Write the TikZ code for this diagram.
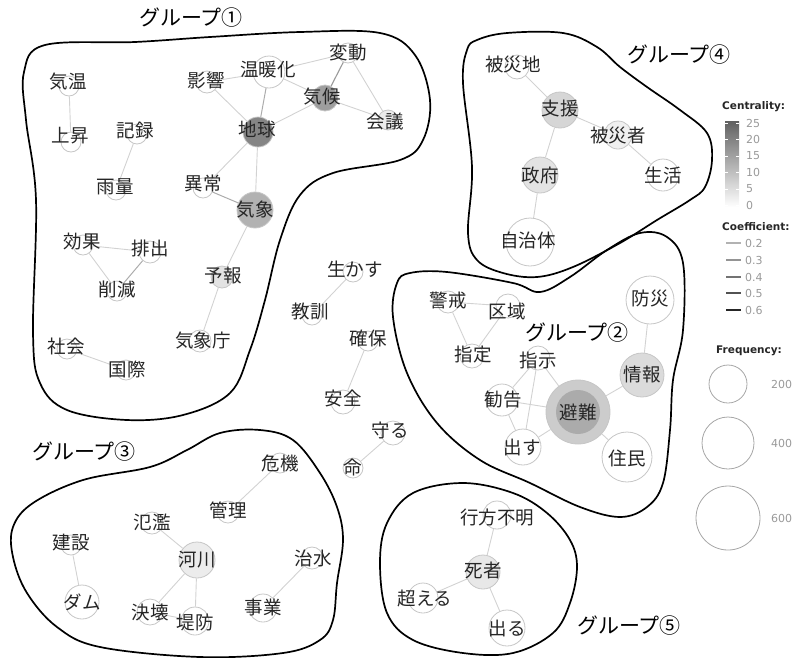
\documentclass[tikz,border=0pt]{standalone}
\usepackage{fontspec}
\newfontfamily\jp{Noto Sans CJK JP}
\newfontfamily\leg{DejaVu Sans}
\begin{document}
\begin{tikzpicture}[x=1pt,y=-1pt,
 circ/.style={circle, draw=gray!45, line width=0.8pt, inner sep=0pt, fill=white},
 word/.style={font=\jp\fontsize{18.5}{18.5}\selectfont, text=black!85, inner sep=0pt},
 grp/.style={font=\jp\fontsize{21}{21}\selectfont, inner sep=0pt},
 edge/.style={draw=gray!35, line width=0.9pt},
 dedge/.style={draw=gray!65, line width=1pt},
 hull/.style={draw=black, line width=1.7pt},
 legt/.style={font=\leg\bfseries\fontsize{10.5}{10.5}\selectfont, text=black!85, anchor=west, inner sep=0pt},
 legn/.style={font=\leg\fontsize{11}{11}\selectfont, text=gray!80, anchor=west, inner sep=0pt},
]
\useasboundingbox (0,0) rectangle (794,657);
\newcommand\cn[5]{\node[circ,minimum size=#4*2pt,fill=#5] (#1) at (#2,#3) {};}
\newcommand\tn[4]{\node[word] (t#1) at (#2,#3) {#4};}

% ---------- group outlines ----------
\draw[hull] plot[smooth cycle, tension=0.6] coordinates {(45,45) (135,42) (210,37) (300,32) (380,33) (415,55) (430,100) (423,140) (400,160) (333,173) (300,195) (280,240) (265,300) (250,350) (230,393) (183,415) (127,420) (67,410) (40,383) (33,333) (36,200) (26,120) (24,72)};
\draw[hull] plot[smooth cycle, tension=0.6] coordinates {(477,40) (507,33) (563,33) (597,47) (620,67) (647,87) (680,110) (707,133) (712,160) (705,187) (690,200) (657,220) (620,243) (573,267) (537,277) (503,273) (477,260) (468,233) (472,167) (463,83) (467,50)};
\draw[hull] plot[smooth cycle, tension=0.6] coordinates {(410,273) (447,272) (513,283) (540,292) (570,277) (607,250) (640,233) (667,237) (683,263) (683,330) (673,380) (670,430) (663,483) (647,507) (620,517) (580,507) (530,483) (480,460) (437,423) (407,373) (393,317) (397,283)};
\draw[hull] plot[smooth cycle, tension=0.6] coordinates {(13,527) (33,503) (83,480) (150,467) (187,450) (220,433) (260,430) (293,440) (320,473) (337,507) (343,540) (337,583) (333,620) (320,640) (283,653) (200,657) (100,647) (57,627) (27,593) (13,557)};
\draw[hull] plot[smooth cycle, tension=0.6] coordinates {(413,493) (463,483) (513,493) (547,513) (570,540) (577,567) (570,603) (553,633) (513,653) (463,653) (413,640) (387,613) (380,563) (387,523)};

% ---------- circles ----------
\cn{kion}{69}{86}{10}{white}
\cn{josho}{71}{142}{10}{white}
\cn{kiroku}{137}{134}{10}{white}
\cn{uryo}{116}{190}{10}{white}
\cn{eikyo}{207}{82}{11}{white}
\cn{ondan}{269}{72}{16}{white}
\cn{hendo}{348}{53}{10}{white}
\cn{kiko}{325}{98}{13}{black!38}
\cn{kaigi}{388}{120}{10}{gray!15}
\cn{chikyu}{258}{132}{15}{black!48}
\cn{ijo}{203}{188}{10}{white}
\cn{kisho}{255}{210}{18}{black!30}
\cn{koka}{83}{245}{10}{white}
\cn{haishutsu}{150}{252}{11}{white}
\cn{sakugen}{117}{291}{10}{white}
\cn{yoho}{222}{277}{11}{gray!22}
\cn{kishocho}{200}{341}{11}{white}
\cn{shakai}{67}{349}{10}{white}
\cn{kokusai}{126}{370}{10}{white}
\cn{ikasu}{353}{272}{10}{white}
\cn{kyokun}{312}{315}{10}{white}
\cn{kakuho}{368}{341}{10}{white}
\cn{anzen}{343}{402}{12}{white}
\cn{mamoru}{393}{433}{12}{white}
\cn{inochi}{353}{468}{10}{white}
\cn{hisaichi}{517}{67}{12}{white}
\cn{shien}{560}{110}{18}{gray!32}
\cn{hisaisha}{618}{135}{14}{gray!12}
\cn{seikatsu}{663}{175}{16}{white}
\cn{seifu}{540}{175}{18}{gray!22}
\cn{jichitai}{530}{242}{24}{white}
\cn{keikai}{448}{302}{11}{white}
\cn{kuiki}{508}{306}{12}{white}
\cn{shitei}{472}{356}{12}{white}
\cn{shiji}{538}{358}{12}{white}
\cn{bosai}{650}{300}{24}{white}
\cn{joho}{642}{375}{22}{gray!28}
\cn{kankoku}{502}{400}{16}{white}
\cn{hinan}{578}{412}{32}{gray!40}
\node[circle, fill=black!33, inner sep=0pt, minimum size=44pt] (hinanin) at (578,412) {};
\cn{dasu}{523}{447}{18}{white}
\cn{jumin}{627}{457}{25}{white}
\cn{yukue}{497}{515}{14}{white}
\cn{shisha}{483}{572}{17}{gray!18}
\cn{koeru}{423}{598}{15}{white}
\cn{deru}{507}{628}{18}{white}
\cn{kiki}{280}{463}{10}{white}
\cn{kanri}{228}{512}{11}{white}
\cn{hanran}{152}{523}{11}{white}
\cn{kensetsu}{71}{545}{10}{white}
\cn{kasen}{197}{560}{18}{gray!15}
\cn{chisui}{312}{558}{11}{white}
\cn{damu}{82}{602}{17}{white}
\cn{kekkai}{150}{612}{13}{white}
\cn{teibo}{195}{621}{14}{white}
\cn{jigyo}{263}{608}{14}{white}

% ---------- edges ----------
\draw[edge] (kion) -- (josho);
\draw[edge] (kiroku) -- (uryo);
\draw[edge] (eikyo) -- (ondan);
\draw[edge] (eikyo) -- (chikyu);
\draw[dedge] (ondan) -- (chikyu);
\draw[edge] (ondan) -- (kiko);
\draw[edge] (ondan) -- (hendo);
\draw[draw=gray!80, line width=1.1pt] (hendo) -- (kiko);
\draw[edge] (hendo) -- (kaigi);
\draw[edge] (kiko) -- (kaigi);
\draw[edge] (chikyu) -- (kiko);
\draw[edge] (chikyu) -- (ijo);
\draw[edge] (chikyu) -- (kisho);
\draw[dedge] (ijo) -- (kisho);
\draw[edge] (kisho) -- (yoho);
\draw[edge] (yoho) -- (kishocho);
\draw[edge] (koka) -- (haishutsu);
\draw[edge] (koka) -- (sakugen);
\draw[dedge] (haishutsu) -- (sakugen);
\draw[edge] (shakai) -- (kokusai);
\draw[edge] (ikasu) -- (kyokun);
\draw[edge] (kakuho) -- (anzen);
\draw[edge] (mamoru) -- (inochi);
\draw[edge] (hisaichi) -- (shien);
\draw[edge] (shien) -- (hisaisha);
\draw[edge] (hisaisha) -- (seikatsu);
\draw[edge] (shien) -- (seifu);
\draw[edge] (seifu) -- (jichitai);
\draw[edge] (keikai) -- (kuiki);
\draw[edge] (keikai) -- (shitei);
\draw[edge] (kuiki) -- (shitei);
\draw[edge] (shiji) -- (kankoku);
\draw[edge] (shiji) -- (dasu);
\draw[edge] (shiji) -- (hinan);
\draw[edge] (kankoku) -- (hinan);
\draw[edge] (kankoku) -- (dasu);
\draw[edge] (dasu) -- (hinan);
\draw[edge] (hinan) -- (joho);
\draw[edge] (hinan) -- (jumin);
\draw[edge] (joho) -- (bosai);
\draw[edge] (yukue) -- (shisha);
\draw[edge] (shisha) -- (koeru);
\draw[edge] (shisha) -- (deru);
\draw[edge] (kiki) -- (kanri);
\draw[edge] (hanran) -- (kasen);
\draw[edge] (kasen) -- (kekkai);
\draw[edge] (kasen) -- (teibo);
\draw[edge] (kekkai) -- (teibo);
\draw[edge] (kensetsu) -- (damu);
\draw[edge] (chisui) -- (jigyo);

% ---------- words ----------
\tn{kion}{68}{82}{気温}
\tn{josho}{70}{136}{上昇}
\tn{kiroku}{135}{130}{記録}
\tn{uryo}{115}{187}{雨量}
\tn{eikyo}{206}{80}{影響}
\tn{ondan}{268}{70}{温暖化}
\tn{hendo}{348}{53}{変動}
\tn{kiko}{322}{97}{気候}
\tn{kaigi}{385}{122}{会議}
\tn{chikyu}{257}{129}{地球}
\tn{ijo}{203}{183}{異常}
\tn{kisho}{255}{209}{気象}
\tn{koka}{82}{242}{効果}
\tn{haishutsu}{150}{248}{排出}
\tn{sakugen}{117}{289}{削減}
\tn{yoho}{223}{275}{予報}
\tn{kishocho}{203}{340}{気象庁}
\tn{shakai}{66}{346}{社会}
\tn{kokusai}{127}{369}{国際}
\tn{ikasu}{355}{269}{生かす}
\tn{kyokun}{310}{311}{教訓}
\tn{kakuho}{368}{338}{確保}
\tn{anzen}{343}{398}{安全}
\tn{mamoru}{390}{430}{守る}
\tn{inochi}{353}{467}{命}
\tn{hisaichi}{513}{65}{被災地}
\tn{shien}{560}{108}{支援}
\tn{hisaisha}{618}{135}{被災者}
\tn{seikatsu}{663}{175}{生活}
\tn{seifu}{540}{175}{政府}
\tn{jichitai}{528}{240}{自治体}
\tn{keikai}{448}{300}{警戒}
\tn{kuiki}{507}{311}{区域}
\tn{shitei}{473}{355}{指定}
\tn{shiji}{538}{360}{指示}
\tn{bosai}{650}{298}{防災}
\tn{joho}{642}{374}{情報}
\tn{kankoku}{503}{400}{勧告}
\tn{hinan}{578}{412}{避難}
\tn{dasu}{522}{448}{出す}
\tn{jumin}{627}{458}{住民}
\tn{yukue}{497}{517}{行方不明}
\tn{shisha}{483}{570}{死者}
\tn{koeru}{425}{598}{超える}
\tn{deru}{507}{628}{出る}
\tn{kiki}{280}{463}{危機}
\tn{kanri}{228}{510}{管理}
\tn{hanran}{152}{522}{氾濫}
\tn{kensetsu}{71}{543}{建設}
\tn{kasen}{197}{560}{河川}
\tn{chisui}{313}{558}{治水}
\tn{damu}{82}{602}{ダム}
\tn{kekkai}{150}{612}{決壊}
\tn{teibo}{195}{622}{堤防}
\tn{jigyo}{263}{607}{事業}

% ---------- group labels ----------
\node[grp] (g1) at (191,18) {グループ①};
\node[grp] (g4) at (679,55) {グループ④};
\node[grp] (g2) at (577,333) {グループ②};
\node[grp] (g3) at (84,452) {グループ③};
\node[grp] (g5) at (629,626) {グループ⑤};

% ---------- legend ----------
\node[legt] (lc) at (722,107) {Centrality:};
\shade[top color=black!62, bottom color=white] (725,121) rectangle (739,207);
\foreach \v/\y in {25/123,20/139,15/156,10/172,5/189,0/205}{
  \draw[white, line width=0.6pt] (725,\y) -- (728,\y) (736,\y) -- (739,\y);
  \node[legn] at (746,\y) {\v};
}
\node[legt] (lco) at (722,227) {Coefficient:};
\foreach \v/\y/\c in {0.2/243/30,0.3/260/42,0.4/277/55,0.5/293/68,0.6/310/85}{
  \draw[draw=black!\c, line width=1.1pt] (726,\y) -- (741,\y);
  \node[legn] at (745,\y) {\v};
}
\node[legt] (lf) at (716,351) {Frequency:};
\node[circle, draw=gray!70, line width=0.8pt, minimum size=38pt, inner sep=0pt] (f200) at (728,384) {};
\node[circle, draw=gray!70, line width=0.8pt, minimum size=52pt, inner sep=0pt] (f400) at (728,443) {};
\node[circle, draw=gray!70, line width=0.8pt, minimum size=64pt, inner sep=0pt] (f600) at (728,518) {};
\node[legn] at (771,384) {200};
\node[legn] at (771,443) {400};
\node[legn] at (771,518) {600};
\end{tikzpicture}
\end{document}
